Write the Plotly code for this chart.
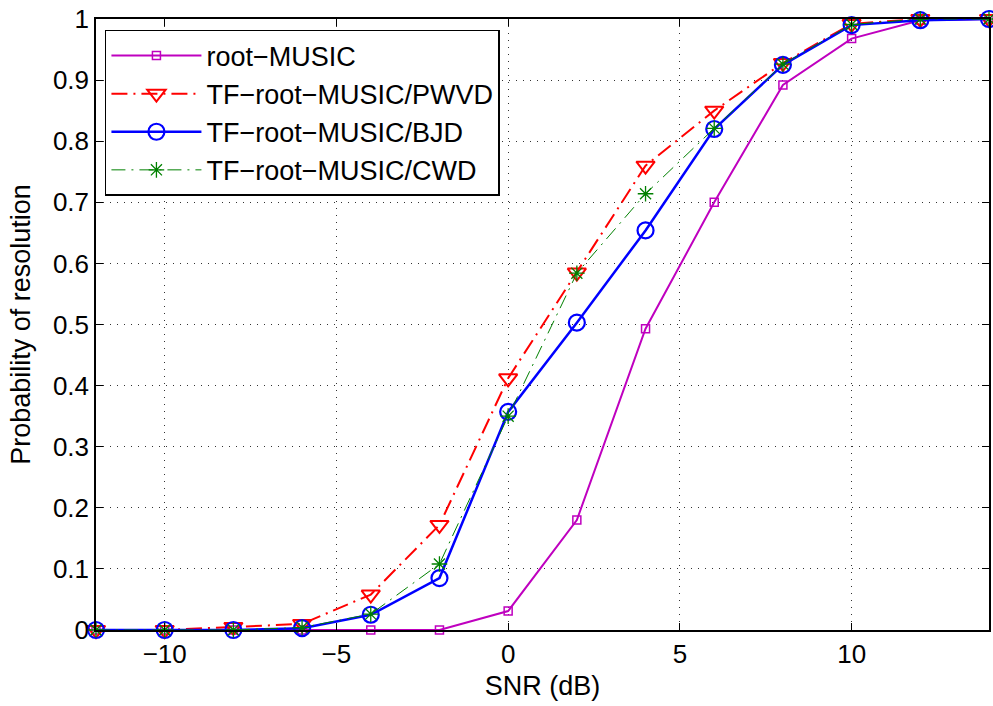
import plotly.graph_objects as go

snr = [-12, -10, -8, -6, -4, -2, 0, 2, 4, 6, 8, 10, 12, 14]

root_music = [0, 0, 0, 0, 0, 0, 0.031, 0.180, 0.493, 0.700, 0.892, 0.968, 0.998, 1.0]
tf_pwvd = [0, 0, 0.005, 0.010, 0.058, 0.172, 0.412, 0.585, 0.760, 0.850, 0.928, 0.992, 1.0, 1.0]
tf_bjd = [0, 0, 0, 0.003, 0.025, 0.085, 0.357, 0.503, 0.654, 0.820, 0.925, 0.990, 0.998, 1.0]
tf_cwd = [0, 0, 0, 0.004, 0.026, 0.108, 0.350, 0.584, 0.714, 0.821, 0.926, 0.991, 1.0, 1.0]

names = ["root\u2212MUSIC", "TF\u2212root\u2212MUSIC/PWVD",
         "TF\u2212root\u2212MUSIC/BJD", "TF\u2212root\u2212MUSIC/CWD"]

x_ticks = [-10, -5, 0, 5, 10]
x_ticktext = ["\u221210", "\u22125", "0", "5", "10"]
y_ticks = [0, 0.1, 0.2, 0.3, 0.4, 0.5, 0.6, 0.7, 0.8, 0.9, 1]
y_ticktext = ["0", "0.1", "0.2", "0.3", "0.4", "0.5", "0.6", "0.7", "0.8", "0.9", "1"]

FONT = "Liberation Sans, Arial, Helvetica, sans-serif"

fig = go.Figure()

# (values, colour, dash pattern, line width, marker symbol, marker size, marker edge width)
styles = [
    (root_music, "#bf00bf", "solid", 2, "square-open", 8, 1.5),
    (tf_pwvd, "#ff0000", "16px,6px,2px,6px", 2, "triangle-down-open", 16, 2),
    (tf_bjd, "#0000ff", "solid", 2.5, "circle-open", 16, 2.2),
    (tf_cwd, "#008000", "14px,6px,2px,6px", 1, "asterisk-open", 13, 1.3),
]

for i, (vals, col, dash, lw, sym, ms, mlw) in enumerate(styles):
    fig.add_trace(go.Scatter(
        x=snr, y=vals, name=names[i], mode="lines+markers",
        line=dict(color=col, width=lw, dash=dash),
        marker=dict(symbol=sym, size=ms, color=col, line=dict(color=col, width=mlw)),
        cliponaxis=False, legendgroup=str(i),
    ))

axis_common = dict(
    showline=True, linecolor="black", linewidth=1.5, mirror="ticks",
    ticks="inside", ticklen=7, tickcolor="black", tickwidth=1,
    showgrid=True, gridcolor="#333333", griddash="1px,6px", gridwidth=1,
    zeroline=False, automargin=False,
    tickfont=dict(family=FONT, size=26, color="black"),
)

fig.update_xaxes(range=[-12, 14], tickvals=x_ticks, ticktext=x_ticktext,
                 title=dict(text="SNR (dB)", font=dict(family=FONT, size=27, color="black"), standoff=8),
                 **axis_common)
fig.update_yaxes(range=[0, 1], tickvals=y_ticks, ticktext=y_ticktext,
                 title=dict(text="Probability of resolution", font=dict(family=FONT, size=27, color="black"), standoff=14),
                 **axis_common)

fig.update_layout(
    width=993, height=706,
    margin=dict(l=96, r=4, t=19, b=76),
    plot_bgcolor="white", paper_bgcolor="white",
    font=dict(family=FONT, size=26, color="black"),
    legend=dict(x=0.01, y=0.982, xanchor="left", yanchor="top",
                bgcolor="white", bordercolor="black", borderwidth=1.5,
                font=dict(family=FONT, size=27, color="black"),
                traceorder="grouped", tracegroupgap=0, itemwidth=90),
    showlegend=True,
)

fig.write_html("out.html")
